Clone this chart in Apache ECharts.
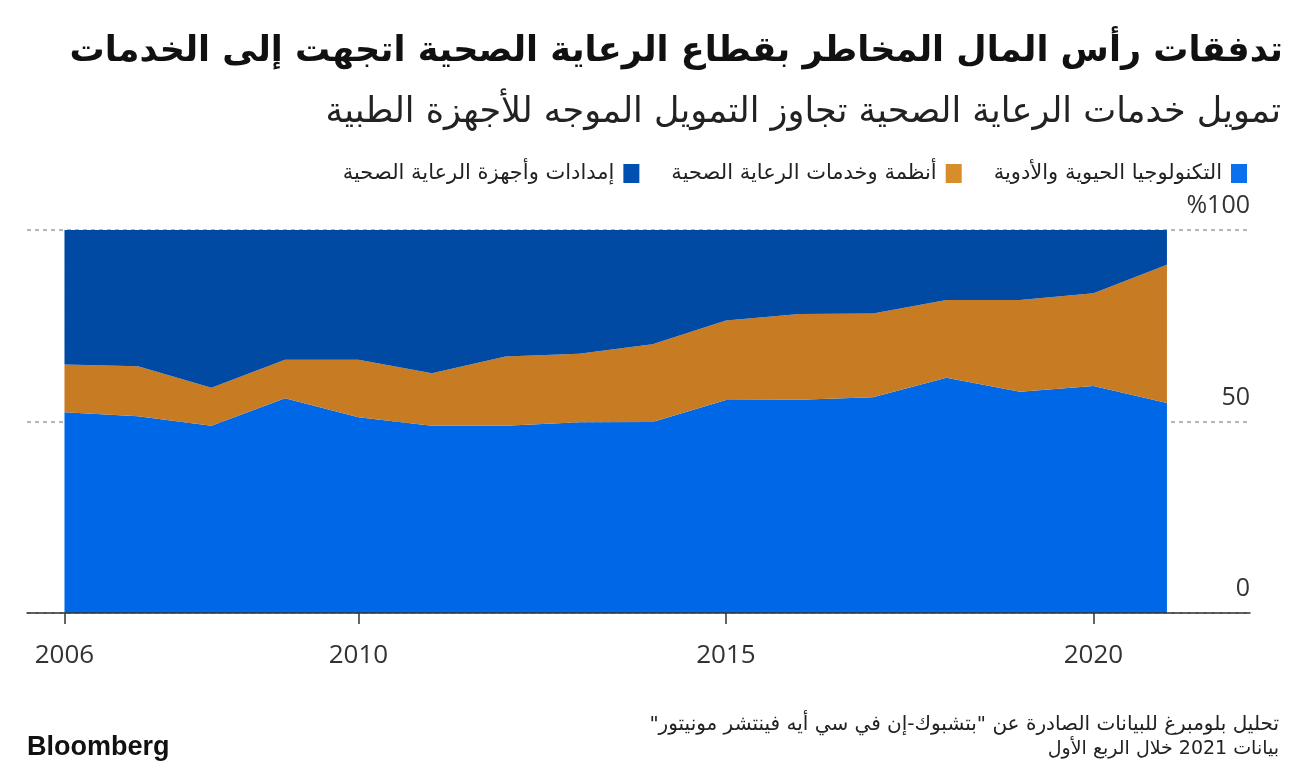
<!DOCTYPE html>
<html>
<head>
<meta charset="utf-8">
<script src="https://cdn.jsdelivr.net/npm/echarts@6/dist/echarts.min.js"></script>
<style>
html,body{margin:0;padding:0;background:#fff;}
#chart{width:1306px;height:774px;}
</style>
</head>
<body>
<div id="chart"></div>
<script>
// ---- data ----
var years = [2006, 2007, 2008, 2009, 2010, 2011, 2012, 2013, 2014, 2015, 2016, 2017, 2018, 2019, 2020, 2021];
var biotech  = [52.4, 51.4, 48.9, 56.1, 51.1, 48.9, 48.9, 49.8, 49.9, 55.6, 55.7, 56.3, 61.4, 57.8, 59.3, 54.8];
var services = [12.5, 13.0, 9.9, 10.0, 15.0, 13.7, 18.1, 17.9, 20.3, 20.8, 22.4, 21.9, 20.3, 23.9, 24.2, 36.1];
var devices  = [35.1, 35.6, 41.2, 33.9, 33.9, 37.4, 33.0, 32.3, 29.8, 23.6, 21.9, 21.8, 18.3, 18.3, 16.5, 9.1];
var xTicks = [2006, 2010, 2015, 2020];
var seriesNames = ['التكنولوجيا الحيوية والأدوية', 'أنظمة وخدمات الرعاية الصحية', 'إمدادات وأجهزة الرعاية الصحية'];
var titleText = 'تدفقات رأس المال المخاطر بقطاع الرعاية الصحية اتجهت إلى الخدمات';
var subtitleText = 'تمويل خدمات الرعاية الصحية تجاوز التمويل الموجه للأجهزة الطبية';
var sourceLine1 = 'تحليل بلومبرغ للبيانات الصادرة عن "بتشبوك-إن في سي أيه فينتشر مونيتور"';
var sourceLine2 = 'بيانات 2021 خلال الربع الأول';

// right-to-left paragraph marks so edge punctuation sits correctly
function rtl(s){ return '\u200F' + s + '\u200F'; }

var AR = '"DejaVu Sans", sans-serif';
var colors = ['#0068e6', '#c77b22', '#004aa3'];
var legendColors = ['#0a70ee', '#d68d2a', '#0050b2'];

// value first, year second (stacking is done on the first dimension)
function pairs(arr){ return years.map(function(y,i){ return [arr[i], y]; }); }

var chart = echarts.init(document.getElementById('chart'), null, {renderer:'canvas'});
var data = [biotech, services, devices];
var series = data.map(function(arr, i){
  return {
    name: rtl(seriesNames[i]),
    type: 'line',
    stack: 'total',
    symbol: 'none',
    encode: {x: 1, y: 0},
    lineStyle: {width: 0},
    itemStyle: {color: colors[i]},
    areaStyle: {color: colors[i], opacity: 1},
    data: pairs(arr),
    silent: true
  };
});

chart.setOption({
  animation: false,
  backgroundColor: '#fff',
  grid: {left: 27, right: 56, top: 230, bottom: 161},
  legend: {
    data: [2,1,0].map(function(i){ return {name: rtl(seriesNames[i]), itemStyle:{color: legendColors[i]}}; }),
    right: 54, top: 158,
    align: 'right',
    icon: 'rect',
    itemWidth: 16, itemHeight: 19,
    itemGap: 32,
    selectedMode: false,
    textStyle: {fontFamily: AR, fontSize: 21, color: '#222', padding: [0, 4, 0, 0]}
  },
  xAxis: {
    type: 'value',
    min: 2005.49, max: 2022.13,
    z: 5,
    axisLine: {show: true, lineStyle: {color: '#333', width: 1.5}},
    axisTick: {show: true, customValues: xTicks, length: 11, lineStyle: {color: '#333', width: 1.5}},
    axisLabel: {customValues: xTicks, fontSize: 26, color: '#333', margin: 30, fontFamily: '"Open Sans", sans-serif',
      formatter: function(v){ return String(v); }},
    splitLine: {show: false}
  },
  yAxis: {
    type: 'value',
    position: 'right',
    min: 0, max: 100, interval: 50,
    axisLine: {show: false},
    axisTick: {show: false},
    splitLine: {show: true, lineStyle: {color: '#a0a0a0', width: 1.5, type: [4,4]}},
    axisLabel: {
      inside: true, margin: 0,
      verticalAlign: 'bottom',
      lineHeight: 24,
      padding: [0,0,12,0],
      fontSize: 25, color: '#333',
      fontFamily: '"Open Sans", sans-serif',
      formatter: function(v){ return v === 100 ? '%100' : String(v); }
    }
  },
  graphic: [
    {type:'text', style:{text: rtl(titleText), x: 1283, y: 52, align:'right', verticalAlign:'middle', fontFamily: AR, fontWeight:'bold', fontSize: 35, fill:'#111'}},
    {type:'text', style:{text: rtl(subtitleText), x: 1281, y: 113, align:'right', verticalAlign:'middle', fontFamily: AR, fontSize: 35, fill:'#222'}},
    {type:'text', style:{text: rtl(sourceLine1), x: 1279, y: 725, align:'right', verticalAlign:'middle', fontFamily: AR, fontSize: 20, fill:'#222'}},
    {type:'text', style:{text: rtl(sourceLine2), x: 1279, y: 749, align:'right', verticalAlign:'middle', fontFamily: AR, fontSize: 19, fill:'#222'}},
    {type:'text', style:{text: 'Bloomberg', x: 27, y: 748, align:'left', verticalAlign:'middle', fontFamily: '"Liberation Sans", Arial, sans-serif', fontWeight:'bold', fontSize: 27, fill:'#111'}}
  ],
  series: series
});
</script>
</body>
</html>
